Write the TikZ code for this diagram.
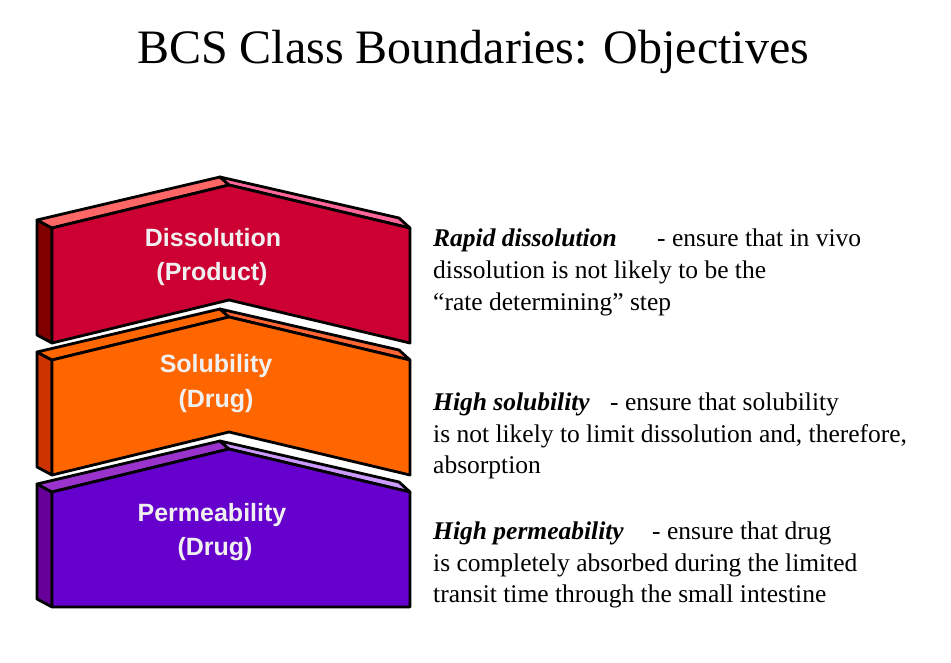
\documentclass[tikz,border=0pt]{standalone}
\usepackage{fontspec}
\setmainfont{Liberation Serif}
\setsansfont{Liberation Sans}
\definecolor{dissfront}{HTML}{CC0033}
\definecolor{dissside}{HTML}{800000}
\definecolor{disstopl}{HTML}{FF6666}
\definecolor{disstopr}{HTML}{FF6699}
\definecolor{solfront}{HTML}{FF6600}
\definecolor{solside}{HTML}{CC3300}
\definecolor{soltopl}{HTML}{FF6600}
\definecolor{soltopr}{HTML}{FF6633}
\definecolor{perfront}{HTML}{6600CC}
\definecolor{perside}{HTML}{660099}
\definecolor{pertopl}{HTML}{9933CC}
\definecolor{pertopr}{HTML}{CC99FF}
\definecolor{lbltext}{HTML}{F0F0F0}
\tikzset{
  edge/.style={draw=black, line width=2.8pt, line join=round},
  lbl/.style={font=\sffamily\bfseries\fontsize{25}{29}\selectfont, text=lbltext, anchor=base, inner sep=0pt},
  body/.style={font=\fontsize{25.5}{30}\selectfont, anchor=base west, inner sep=0pt},
  lead/.style={body, font=\bfseries\itshape\fontsize{25.5}{30}\selectfont},
  titletext/.style={font=\fontsize{48}{57}\selectfont, anchor=base, inner sep=0pt}
}
% #1 top y of front face, #2 front, #3 side, #4 top left, #5 top right, #6 bottom apex offset
\newcommand\bcsblock[6]{%
  \filldraw[edge, fill=#3] (37,#1-8) -- (52,#1) -- (52,#1+115) -- (37,#1+107) -- cycle;
  \filldraw[edge, fill=#4] (37,#1-8) -- (220,#1-51) -- (229,#1-43) -- (52,#1) -- cycle;
  \filldraw[edge, fill=#5] (220,#1-51) -- (399,#1-10) -- (410,#1) -- (229,#1-43) -- cycle;
  \filldraw[edge, fill=#2] (52,#1) -- (229,#1-43) -- (410,#1) -- (410,#1+115) -- (229,#1+#6) -- (52,#1+115) -- cycle;
}
\begin{document}
\begin{tikzpicture}[x=1pt,y=-1pt]
\useasboundingbox[fill=white] (0,0) rectangle (951,663);

\node[titletext] (title) at (473,64) {BCS Class Boundaries: Objectives};

\bcsblock{492}{perfront}{perside}{pertopl}{pertopr}{115}
\bcsblock{360}{solfront}{solside}{soltopl}{soltopr}{72}
\bcsblock{228}{dissfront}{dissside}{disstopl}{disstopr}{72}

\node[lbl] (d1) at (213,247) {Dissolution};
\node[lbl] (d2) at (212,280) {(Product)};
\node[lbl] (s1) at (216,372.5) {Solubility};
\node[lbl] (s2) at (216,407.5) {(Drug)};
\node[lbl] (p1) at (212,521.5) {Permeability};
\node[lbl] (p2) at (215,555) {(Drug)};

\node[lead] (r1a) at (433,247) {Rapid dissolution};
\node[body] (r1b) at (657,247) {- ensure that in vivo};
\node[body] (r2) at (433,278.5) {dissolution is not likely to be the};
\node[body] (r3) at (433,311) {“rate determining” step};

\node[lead] (h1a) at (433,410) {High solubility};
\node[body] (h1b) at (610,410) {- ensure that solubility};
\node[body] (h2) at (433,442) {is not likely to limit dissolution and, therefore,};
\node[body] (h3) at (433,473.5) {absorption};

\node[lead] (q1a) at (433,539) {High permeability};
\node[body] (q1b) at (652,539) {- ensure that drug};
\node[body] (q2) at (433,571) {is completely absorbed during the limited};
\node[body] (q3) at (433,602.5) {transit time through the small intestine};
\end{tikzpicture}
\end{document}
